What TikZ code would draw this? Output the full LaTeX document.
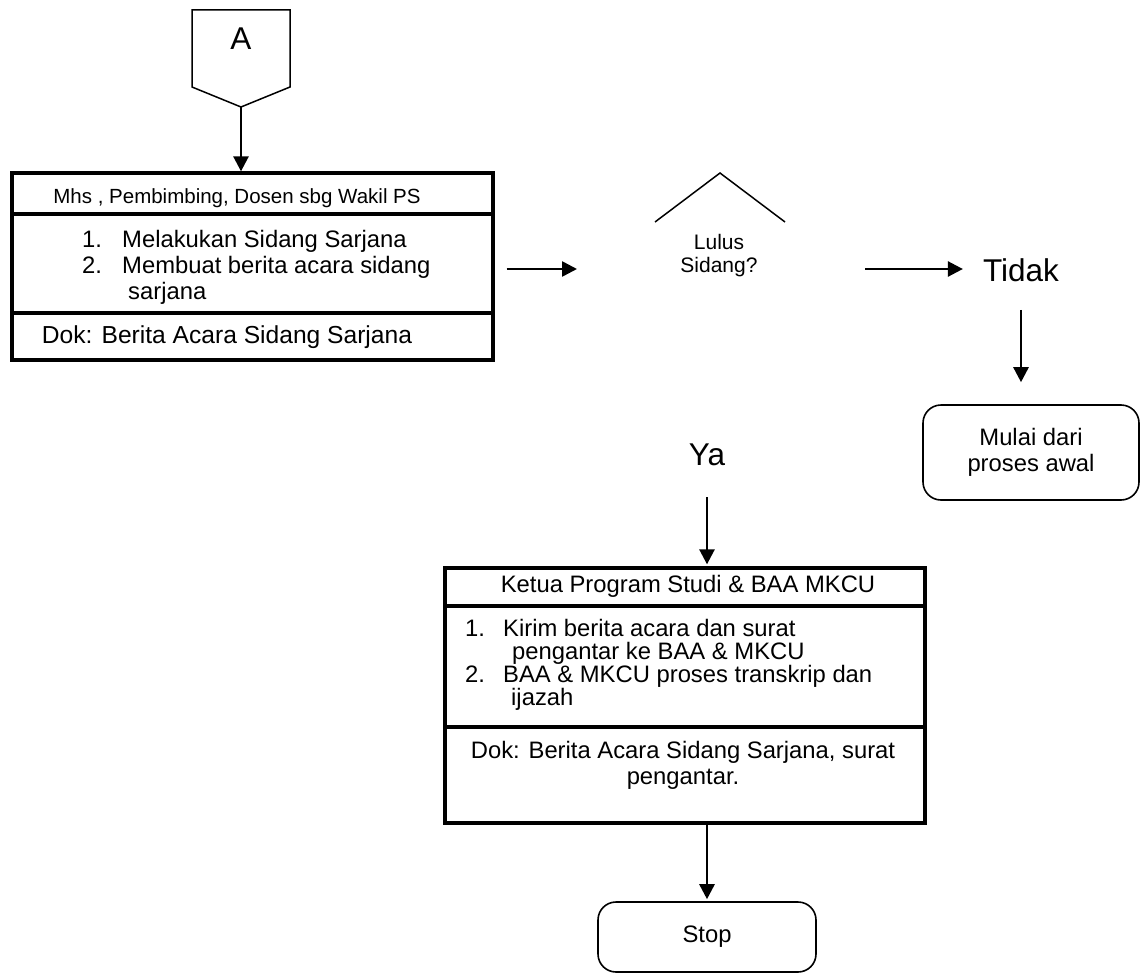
\documentclass[tikz,border=0pt]{standalone}
\usepackage{fontspec}
\setmainfont{Liberation Sans}
\usetikzlibrary{arrows.meta}

\newcommand\fsJudul{\fontsize{20.5}{23}\selectfont}
\newcommand\fsIsi{\fontsize{23.8}{26}\selectfont}
\newcommand\fsDok{\fontsize{24.6}{26}\selectfont}
\newcommand\fsKecil{\fontsize{21}{23}\selectfont}
\newcommand\fsBesar{\fontsize{31.5}{32}\selectfont}

\begin{document}
\begin{tikzpicture}[x=1pt, y=-1pt,
    kotak/.style={draw, line width=3.3pt, inner sep=0pt},
    bulat/.style={draw, line width=1.6pt, rounded corners=18pt, inner sep=0pt},
    panah/.style={-{Triangle[length=15pt,width=15pt]}, line width=2.6pt},
    garis/.style={line width=3.3pt},
    baris/.style={anchor=west, inner sep=0pt, text height=0.72em, text depth=0.2em, font=\fsIsi}]
    \useasboundingbox (0,0) rectangle (1140,974);

    % konektor A
    \draw[line width=1.5pt] (192,10) -- (290,10) -- (290,87) -- (241,107) -- (192,87) -- cycle;
    \node[font=\fsBesar] (A) at (241,39) {A};
    \coordinate (Aujung) at (241,107);

    % proses sidang
    \node[kotak, minimum width=481pt, minimum height=187pt] (proses1) at (252.5,266.5) {};
    \draw[garis] (12,214) -- (493,214);
    \draw[garis] (12,313) -- (493,313);
    \node[font=\fsJudul] (judul1) at (237,198) {Mhs , Pembimbing, Dosen sbg Wakil PS};
    \node[baris] at (82,245) {1.};
    \node[baris] at (122,245) {Melakukan Sidang Sarjana};
    \node[baris] at (82,271) {2.};
    \node[baris] at (122,271) {Membuat berita acara sidang};
    \node[baris] at (128,297) {sarjana};
    \node[font=\fsDok] (dok1) at (227,337) {Dok: Berita Acara Sidang Sarjana};

    % keputusan (hanya puncak belah ketupat)
    \draw[line width=1.5pt] (655,222) -- (720,173) -- (785,222);
    \node[font=\fsKecil, align=center] (lulus) at (719,256) {Lulus\\Sidang?};
    \coordinate (masuk) at (577,269);
    \coordinate (keluar) at (865,269);

    \node[font=\fsBesar, inner sep=0pt] (tidak) at (1021,270) {Tidak};
    \node[bulat, minimum width=216pt, minimum height=95pt, align=center, font=\fsIsi] (mulai) at (1031,452.5) {Mulai dari\\proses awal};

    \node[font=\fsBesar, inner sep=0pt] (ya) at (707,455) {Ya};

    % proses ijazah
    \node[kotak, minimum width=480pt, minimum height=255pt] (proses2) at (685,695.5) {};
    \draw[garis] (445,606) -- (925,606);
    \draw[garis] (445,727) -- (925,727);
    \node[font=\fsIsi] (judul2) at (688,586) {Ketua Program Studi \& BAA MKCU};
    \node[baris] at (465,634) {1.};
    \node[baris] at (503,634) {Kirim berita acara dan surat};
    \node[baris] at (512,657) {pengantar ke BAA \& MKCU};
    \node[baris] at (465,680) {2.};
    \node[baris] at (503,680) {BAA \& MKCU proses transkrip dan};
    \node[baris] at (511,703) {ijazah};
    \node[font=\fsIsi, align=center] (dok2) at (683,765) {Dok: Berita Acara Sidang Sarjana, surat\\pengantar.};

    \node[bulat, minimum width=218pt, minimum height=70pt, font=\fsIsi] (stop) at (707,937) {Stop};

    \draw[panah] (Aujung) -- (Aujung |- proses1.north);
    \draw[panah, shorten <=12pt] (proses1.east |- masuk) -- (masuk);
    \draw[panah, shorten >=20pt] (keluar) -- (tidak.west |- keluar);
    \draw[panah, shorten <=28pt, shorten >=22pt] (tidak.south) -- (tidak.south |- mulai.north);
    \draw[panah, shorten <=31pt, shorten >=2pt] (ya.south) -- (ya.south |- proses2.north);
    \draw[panah, shorten >=2pt] (proses2.south -| stop.north) -- (stop.north);
\end{tikzpicture}
\end{document}
